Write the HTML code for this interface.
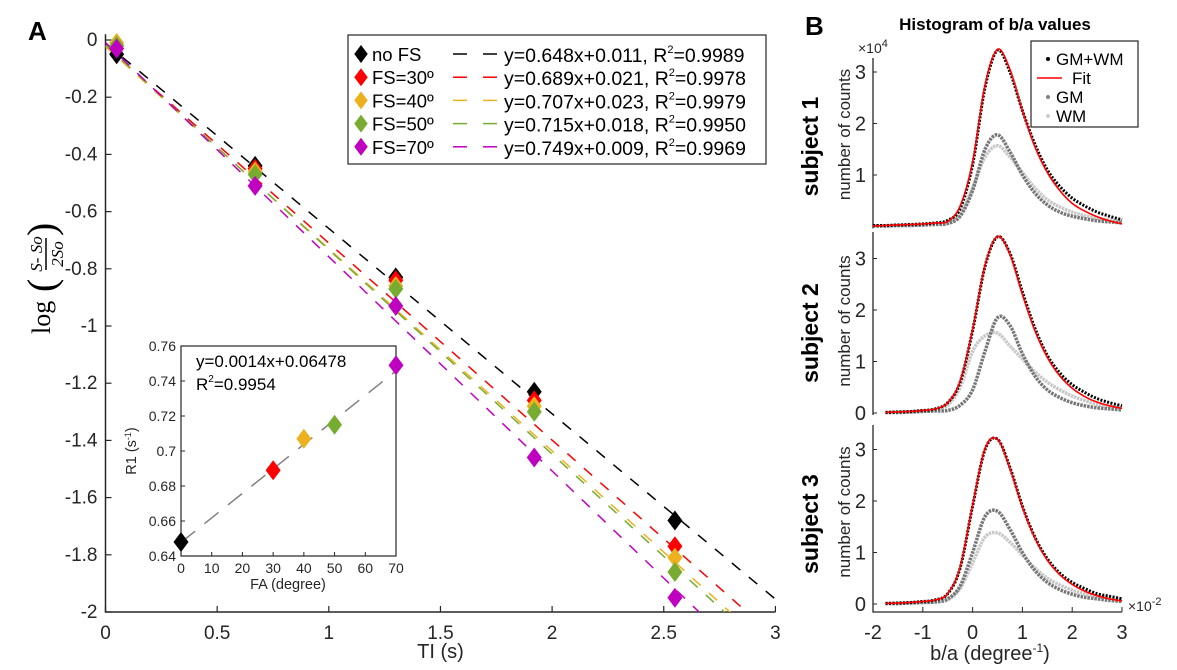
<!DOCTYPE html>
<html><head><meta charset="utf-8"><style>
body{margin:0;background:#fff}
svg{display:block;font-family:"Liberation Sans",Arial,sans-serif}
</style></head><body>
<svg id="fig" width="1177" height="670" viewBox="0 0 1177 670" xmlns="http://www.w3.org/2000/svg">
<g id="A"></g>
<g id="B"></g>
</svg>
<script>
// ---------- Panel A data ----------
const tiValues = [0.05, 0.67, 1.3, 1.92, 2.55];
const seriesNames = ["no FS", "FS=30º", "FS=40º", "FS=50º", "FS=70º"];
const seriesColors = ["#000000", "#FF0000", "#EDB120", "#77AC30", "#C000C0"];
const valsNoFS = [-0.05, -0.44, -0.83, -1.23, -1.68];
const vals30 = [-0.02, -0.45, -0.84, -1.26, -1.77];
const vals40 = [-0.01, -0.46, -0.86, -1.28, -1.81];
const vals50 = [-0.02, -0.47, -0.87, -1.30, -1.86];
const vals70 = [-0.03, -0.51, -0.93, -1.46, -1.95];
const fitSlopes = [0.648, 0.689, 0.707, 0.715, 0.749];
const fitIntercepts = [0.011, 0.021, 0.023, 0.018, 0.009];
const fitLabels = ["y=0.648x+0.011, R²=0.9989","y=0.689x+0.021, R²=0.9978","y=0.707x+0.023, R²=0.9979","y=0.715x+0.018, R²=0.9950","y=0.749x+0.009, R²=0.9969"];
const xTicksA = [0, 0.5, 1, 1.5, 2, 2.5, 3];
const yTicksA = [0, -0.2, -0.4, -0.6, -0.8, -1, -1.2, -1.4, -1.6, -1.8, -2];
// inset
const faValues = [0, 30, 40, 50, 70];
const r1Values = [0.648, 0.689, 0.707, 0.715, 0.749];
const insetXTicks = [0, 10, 20, 30, 40, 50, 60, 70];
const insetYTicks = [0.64, 0.66, 0.68, 0.7, 0.72, 0.74, 0.76];

// ---------- Panel B data ----------
const baX = [-2,-1.75,-1.5,-1.25,-1,-0.75,-0.5,-0.25,0,0.25,0.5,0.75,1,1.25,1.5,1.75,2,2.25,2.5,2.75,3];
const s1All = [0.02,0.02,0.03,0.04,0.05,0.07,0.12,0.35,1.2,2.7,3.42,3.0,2.25,1.6,1.1,0.78,0.55,0.4,0.28,0.2,0.13];
const s1Fit = [0.01,0.02,0.03,0.04,0.05,0.07,0.1,0.4,1.25,2.75,3.44,3.05,2.25,1.55,1.05,0.7,0.45,0.3,0.19,0.11,0.05];
const s1GM  = [0.01,0.01,0.02,0.02,0.03,0.04,0.06,0.2,0.7,1.5,1.78,1.45,1.0,0.65,0.42,0.28,0.2,0.15,0.11,0.09,0.07];
const s1WM  = [0.01,0.01,0.02,0.02,0.03,0.05,0.08,0.25,0.75,1.35,1.57,1.35,1.05,0.75,0.52,0.38,0.28,0.21,0.16,0.13,0.1];
const s2All = [0.01,0.01,0.02,0.03,0.05,0.08,0.2,0.6,1.6,2.85,3.42,3.1,2.35,1.65,1.12,0.78,0.55,0.4,0.28,0.2,0.14];
const s2Fit = [0.01,0.01,0.02,0.03,0.05,0.08,0.2,0.62,1.62,2.87,3.43,3.08,2.3,1.6,1.08,0.72,0.48,0.32,0.21,0.14,0.09];
const s2GM  = [0.01,0.01,0.01,0.02,0.03,0.04,0.05,0.15,0.45,1.2,1.85,1.7,1.15,0.72,0.45,0.3,0.2,0.14,0.1,0.08,0.06];
const s2WM  = [0.01,0.01,0.02,0.02,0.04,0.06,0.15,0.5,1.2,1.5,1.55,1.3,1.05,0.8,0.6,0.45,0.33,0.24,0.17,0.13,0.1];
const s3All = [0.01,0.01,0.02,0.03,0.05,0.08,0.2,0.7,1.9,3.0,3.2,2.65,1.9,1.3,0.88,0.6,0.42,0.3,0.2,0.15,0.1];
const s3Fit = [0.01,0.01,0.02,0.03,0.05,0.08,0.2,0.72,1.92,3.02,3.2,2.63,1.88,1.28,0.85,0.57,0.38,0.25,0.16,0.1,0.06];
const s3GM  = [0.01,0.01,0.01,0.02,0.03,0.04,0.1,0.35,1.0,1.7,1.8,1.45,1.0,0.65,0.42,0.28,0.19,0.13,0.1,0.07,0.05];
const s3WM  = [0.01,0.01,0.01,0.02,0.03,0.04,0.08,0.3,0.8,1.3,1.38,1.2,0.95,0.7,0.5,0.37,0.27,0.2,0.15,0.12,0.09];
const bXTicks = [-2,-1,0,1,2,3];

const NS="http://www.w3.org/2000/svg";
function mk(parent, tag, attrs, text){
  const e=document.createElementNS(NS,tag);
  for(const k in attrs) e.setAttribute(k, attrs[k]);
  if(text!==undefined) e.textContent=text;
  parent.appendChild(e); return e;
}
const A=document.getElementById('A'), B=document.getElementById('B');

// ---------- Panel A ----------
const ax = v => 105.5 + v*223.3;
const ay = v => 40 - v*286;
let t;
t=mk(A,'text',{x:28,y:40,'font-size':26,'font-weight':'bold'},'A');


const axA=mk(A,'path',{d:`M${ax(0)} ${ay(0.02)} V${ay(-2)} H${ax(3)}`,stroke:'#262626','stroke-width':1.5,fill:'none'});


xTicksA.forEach(v=>{
  mk(A,'line',{x1:ax(v),x2:ax(v),y1:ay(-2),y2:ay(-2)-6,stroke:'#262626','stroke-width':1.2});
  t=mk(A,'text',{x:ax(v),y:ay(-2)+27,'font-size':19,'text-anchor':'middle',fill:'#262626'},String(v));
  
  
});
yTicksA.forEach(v=>{
  mk(A,'line',{x1:ax(0),x2:ax(0)+6,y1:ay(v),y2:ay(v),stroke:'#262626','stroke-width':1.2});
  t=mk(A,'text',{x:ax(0)-8,y:ay(v)+6,'font-size':19,'text-anchor':'end',fill:'#262626'},v===0?'0':String(v));
  
  
});
t=mk(A,'text',{x:ax(1.5),y:658,'font-size':20,'text-anchor':'middle',fill:'#262626'},'TI (s)');


// y-axis title
const yt=mk(A,'g',{transform:'translate(50,272) rotate(-90)','font-family':'"Liberation Serif",serif'});


mk(yt,'text',{x:-62,y:0,'font-size':26},'log');
mk(yt,'text',{x:-20,y:5,'font-size':40,'font-weight':'lighter'},'(');
mk(yt,'text',{x:18,y:-8,'font-size':17,'font-style':'italic','text-anchor':'middle'},'S- So');
mk(yt,'line',{x1:2,x2:34,y1:-4,y2:-4,stroke:'#000','stroke-width':1.5});
mk(yt,'text',{x:18,y:13,'font-size':17,'font-style':'italic','text-anchor':'middle'},'2So');
mk(yt,'text',{x:36,y:5,'font-size':40},')');
// clip
const defs=mk(A,'defs',{});
const cp=mk(defs,'clipPath',{id:'clipA'});
mk(cp,'rect',{x:ax(0),y:ay(0.05),width:ax(3)-ax(0),height:ay(-2)-ay(0.05)});
const allVals=[valsNoFS,vals30,vals40,vals50,vals70];
const lg=mk(A,'g',{'clip-path':'url(#clipA)'});
fitSlopes.forEach((s,i)=>{
  const x2=3;
  const l=mk(lg,'line',{x1:ax(0),y1:ay(-fitIntercepts[i]),x2:ax(x2),y2:ay(-(s*x2+fitIntercepts[i])),stroke:seriesColors[i],'stroke-width':1.5,'stroke-dasharray':'11 11'});
  
  
});
function diamond(g,cx,cy,r,col,name){
  const p=mk(g,'path',{d:`M${cx} ${cy-r} L${cx+r*0.75} ${cy} L${cx} ${cy+r} L${cx-r*0.75} ${cy} Z`,fill:col});
  
  
  return p;
}
allVals.forEach((vs,i)=>{
  vs.forEach((v,j)=>diamond(A,ax(tiValues[j]),ay(v),10,seriesColors[i],'point-'+i+'-'+j));
});
// legend
const leg=mk(A,'g',{});


mk(leg,'rect',{x:348,y:35,width:418,height:129,fill:'#fff',stroke:'#262626','stroke-width':1.2});
seriesNames.forEach((n,i)=>{
  const y=54+i*23.2;
  diamond(leg,361,y,9,seriesColors[i],'legend-marker');
  t=mk(leg,'text',{x:372,y:y+7,'font-size':18.5},n);
  
  
  mk(leg,'line',{x1:453,x2:467,y1:y,y2:y,stroke:seriesColors[i],'stroke-width':1.5});
  mk(leg,'line',{x1:483,x2:497,y1:y,y2:y,stroke:seriesColors[i],'stroke-width':1.5});
  const parts=fitLabels[i].split('R²');
  t=mk(leg,'text',{x:504,y:y+8,'font-size':19.5},parts[0]+'R');
  mk(t,'tspan',{'font-size':11,dy:-9},'2');
  mk(t,'tspan',{'font-size':19.5,dy:9},parts[1]);
  
  
});
// inset
const ix = v => 181 + v*(396-181)/70;
const iy = v => 556 - (v-0.64)*(556-346)/0.12;
const ins=mk(A,'g',{});


mk(ins,'rect',{x:181,y:346,width:215,height:210,fill:'#fff',stroke:'#262626','stroke-width':1.2});
insetXTicks.forEach(v=>{
  mk(ins,'line',{x1:ix(v),x2:ix(v),y1:556,y2:552,stroke:'#262626'});
  mk(ins,'text',{x:ix(v),y:573,'font-size':14,'text-anchor':'middle',fill:'#262626'},String(v));
});
insetYTicks.forEach(v=>{
  mk(ins,'line',{x1:181,x2:185,y1:iy(v),y2:iy(v),stroke:'#262626'});
  mk(ins,'text',{x:176,y:iy(v)+5,'font-size':14,'text-anchor':'end',fill:'#262626'},String(v));
});
t=mk(ins,'text',{x:288,y:589,'font-size':14.5,'text-anchor':'middle',fill:'#262626'},'FA (degree)');


t=mk(ins,'text',{x:0,y:0,'font-size':14.5,'text-anchor':'middle',fill:'#262626',transform:'translate(136,451) rotate(-90)'},'R1 (s');
mk(t,'tspan',{'font-size':9,dy:-5},'-1');
mk(t,'tspan',{dy:5},')');


const l2=mk(ins,'line',{x1:ix(0),y1:iy(0.64778),x2:ix(70),y2:iy(0.0014*70+0.64778),stroke:'#808080','stroke-width':1.5,'stroke-dasharray':'18 12'});


faValues.forEach((v,i)=>diamond(ins,ix(v),iy(r1Values[i]),10,seriesColors[i],'inset-point-'+i));
mk(ins,'text',{x:196,y:367,'font-size':17},'y=0.0014x+0.06478');
t=mk(ins,'text',{x:196,y:390,'font-size':17},'R');
mk(t,'tspan',{'font-size':10,dy:-8},'2');
mk(t,'tspan',{'font-size':17,dy:8},'=0.9954');

// ---------- Panel B ----------
const bx = v => 873 + (v+2)*49.8;
const zeros=[226.5,413,604];
const bs=51.5;
t=mk(B,'text',{x:805,y:35,'font-size':26,'font-weight':'bold'},'B');


t=mk(B,'text',{x:995,y:30,'font-size':17,'font-weight':'bold','text-anchor':'middle'},'Histogram of b/a values');


const subjData=[[s1All,s1Fit,s1GM,s1WM],[s2All,s2Fit,s2GM,s2WM],[s3All,s3Fit,s3GM,s3WM]];
const axTops=[58,232,425];
function spline(xs,ys){
  const p=xs.map((x,i)=>[x,ys[i]]);
  let d=`M${p[0][0]} ${p[0][1]}`;
  for(let i=0;i<p.length-1;i++){
    const p0=p[i-1]||p[i],p1=p[i],p2=p[i+1],p3=p[i+2]||p2;
    const c1=[p1[0]+(p2[0]-p0[0])/6,p1[1]+(p2[1]-p0[1])/6];
    const c2=[p2[0]-(p3[0]-p1[0])/6,p2[1]-(p3[1]-p1[1])/6];
    d+=` C${c1[0]} ${c1[1]} ${c2[0]} ${c2[1]} ${p2[0]} ${p2[1]}`;
  }
  return d;
}
subjData.forEach((ds,k)=>{
  const z=zeros[k];
  const by=v=>z-v*bs;
  const g=mk(B,'g',{});
  
  
  const bottom = k===2 ? 612 : z+2;
  mk(g,'path',{d:`M${873} ${axTops[k]} V${bottom}`+(k===2?` H1122`:''),stroke:'#262626','stroke-width':1.3,fill:'none'});
  [0,1,2,3].forEach(v=>{
    if(k===0&&v===0) return;
    mk(g,'line',{x1:873,x2:877,y1:by(v),y2:by(v),stroke:'#262626'});
    mk(g,'text',{x:866,y:by(v)+7,'font-size':20,'text-anchor':'end',fill:'#262626'},String(v));
  });
  t=mk(g,'text',{x:0,y:0,'font-size':23,'font-weight':'bold','text-anchor':'middle',transform:`translate(818,${z-80}) rotate(-90)`},'subject '+(k+1));
  
  
  t=mk(g,'text',{x:0,y:0,'font-size':17,'text-anchor':'middle',fill:'#262626',transform:`translate(850,${z-92}) rotate(-90)`},'number of counts');
  
  
  const xs=baX.map(bx);
  const start = k===0?0:1;
  const xsS=xs.slice(start);
  const styles=[
    {stroke:'#000','stroke-width':3,'stroke-dasharray':'2 1.5',name:'gm-wm-series'},
    {stroke:'#ff0000','stroke-width':1.6,name:'fit-line'},
    {stroke:'#777','stroke-width':3.5,'stroke-dasharray':'2.5 1',name:'gm-series'},
    {stroke:'#c8c8c8','stroke-width':3.5,'stroke-dasharray':'2.5 0.8',name:'wm-series'}];
  [3,2,0,1].forEach(si=>{
    const st=styles[si];
    const p=mk(g,'path',{d:spline(xsS,ds[si].slice(start).map(by)),fill:'none',stroke:st.stroke,'stroke-width':st['stroke-width']});
    if(st['stroke-dasharray']) p.setAttribute('stroke-dasharray',st['stroke-dasharray']);
    
    
  });
});
t=mk(B,'text',{x:858,y:53,'font-size':14,fill:'#262626'},'×10');
mk(t,'tspan',{'font-size':11,dy:-6},'4');
bXTicks.forEach(v=>{
  mk(B,'line',{x1:bx(v),x2:bx(v),y1:612,y2:607,stroke:'#262626'});
  t=mk(B,'text',{x:bx(v),y:639,'font-size':20,'text-anchor':'middle',fill:'#262626'},String(v));
  
  
});
t=mk(B,'text',{x:1128,y:611,'font-size':14,fill:'#262626'},'×10');
mk(t,'tspan',{'font-size':11,dy:-6},'-2');
t=mk(B,'text',{x:990,y:660,'font-size':20,'text-anchor':'middle',fill:'#262626'},'b/a (degree');
mk(t,'tspan',{'font-size':12,dy:-8},'-1');
mk(t,'tspan',{dy:8},')');


// legend B
const lb=mk(B,'g',{});


mk(lb,'rect',{x:1031,y:41,width:107,height:86,fill:'#fff',stroke:'#262626','stroke-width':1.2});
const lbRows=[['GM+WM','#000',59],['Fit','#f00',78],['GM','#808080',97],['WM','#ccc',116]];
lbRows.forEach((r,i)=>{
  if(i===1){ mk(lb,'line',{x1:1037,x2:1062,y1:r[2],y2:r[2],stroke:'#f00','stroke-width':1.6}); mk(lb,'text',{x:1072,y:r[2]+6,'font-size':17},r[0]); }
  else { mk(lb,'circle',{cx:1048,cy:r[2],r:2,fill:r[1]}); mk(lb,'text',{x:1056,y:r[2]+6,'font-size':17},r[0]); }
});
</script>
</body></html>
